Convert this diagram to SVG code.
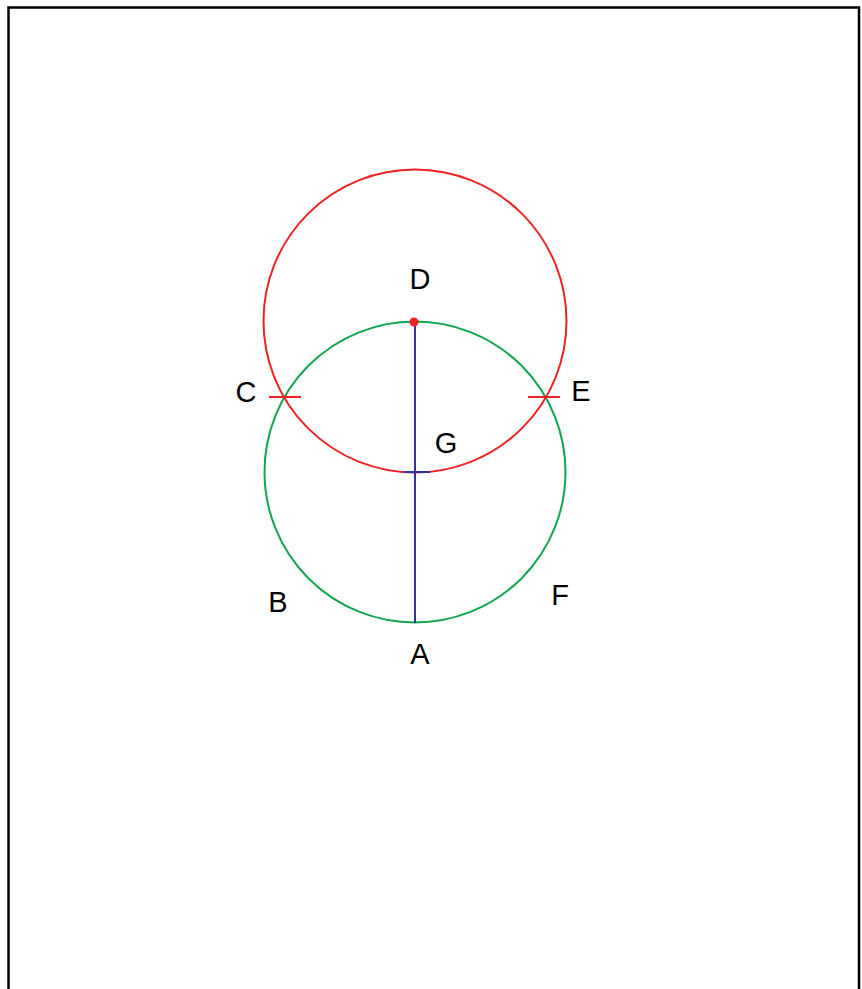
<svg xmlns="http://www.w3.org/2000/svg" width="862" height="989" viewBox="0 0 862 989">
<style>
.lbl{font-family:"Liberation Sans",Arial,sans-serif;font-size:29px;fill:#000;text-anchor:middle}
.red{stroke:#ee2222;stroke-width:2;fill:none}
.green{stroke:#11a550;stroke-width:2;fill:none}
.blue{stroke:#333399;stroke-width:2;fill:none}
</style>
<rect x="0" y="0" width="862" height="989" fill="#fff"/>
<path d="M8.5,992 V7.5 H859 V992" fill="none" stroke="#000" stroke-width="2.5"/>
<g id="circle-green"><circle class="green" cx="415" cy="472" r="150.5"/></g>
<g id="circle-red"><circle class="red" cx="415" cy="321" r="151.5"/></g>
<g id="connectors">
<line class="blue" x1="415" y1="322" x2="415" y2="623"/>
<line class="blue" x1="404" y1="472" x2="430" y2="472"/>
<line class="red" x1="269" y1="397" x2="301" y2="397"/>
<line class="red" x1="528" y1="397" x2="560" y2="397"/>
</g>
<g id="D"><circle cx="414" cy="322" r="4.5" fill="#ee2222"/><text class="lbl" x="420" y="289">D</text></g>
<g id="C"><text class="lbl" x="246" y="402">C</text></g>
<g id="E"><text class="lbl" x="581" y="401">E</text></g>
<g id="G"><text class="lbl" x="446" y="453">G</text></g>
<g id="B"><text class="lbl" x="278" y="612">B</text></g>
<g id="F"><text class="lbl" x="560" y="605">F</text></g>
<g id="A"><text class="lbl" x="420" y="664">A</text></g>
</svg>
